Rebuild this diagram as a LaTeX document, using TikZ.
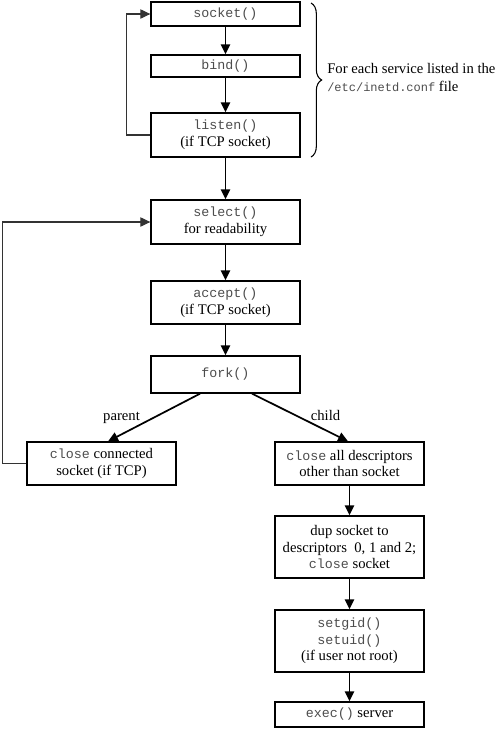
\documentclass[tikz,border=0pt]{standalone}
\usepackage{fontspec}
\setmainfont{Liberation Serif}
\setmonofont{Liberation Mono}
\usetikzlibrary{arrows.meta,decorations.pathreplacing}
\definecolor{codegray}{gray}{0.3}
\newcommand{\cd}[1]{{\fontsize{10}{12}\selectfont\ttfamily\color{codegray}#1}}
\begin{document}
\begin{tikzpicture}[x=0.75pt,y=-0.75pt,
 box/.style={draw, line width=1pt, minimum width=111.75pt, inner sep=0pt, align=center, font=\fontsize{11}{12.5}\selectfont},
 flow/.style={line width=1.3pt, -{Triangle[length=7.5pt,width=7pt]}},
 back/.style={line width=0.8pt, draw=black!80, -{Triangle[length=7.5pt,width=7pt]}},
 lab/.style={font=\fontsize{11}{13}\selectfont, inner sep=0pt}]
\useasboundingbox (0,0) rectangle (500,729);
\node[box, minimum height=18pt] (socket) at (225.5,14) {\cd{socket()}};
\node[box, minimum height=16.5pt] (bind) at (225.5,66) {\cd{bind()}};
\node[box, minimum height=33pt] (listen) at (225.5,135) {\cd{listen()}\\(if TCP socket)};
\node[box, minimum height=33pt] (select) at (225.5,222) {\cd{select()}\\for readability};
\node[box, minimum height=32.25pt] (accept) at (225.5,302.5) {\cd{accept()}\\(if TCP socket)};
\node[box, minimum height=27.75pt] (fork) at (225.5,374.5) {\cd{fork()}};
\node[box, minimum height=32.25pt] (close1) at (101.5,463.5) {\cd{close} connected\\socket (if TCP)};
\node[box, minimum height=32.25pt] (close2) at (349.5,463.5) {\cd{close} all descriptors\\other than socket};
\node[box, minimum height=46.5pt] (dup) at (349.5,547) {dup socket to\\descriptors\ \ 0, 1 and 2;\\\cd{close} socket};
\node[box, minimum height=46.5pt] (setid) at (349.5,641) {\cd{setgid()}\\\cd{setuid()}\\(if user not root)};
\node[box, minimum height=18.75pt] (exec) at (349.5,714.5) {\cd{exec()} server};
% brace and label
\draw[line width=0.8pt, decorate, decoration={brace, amplitude=8pt}] (311,3) -- (311,157);
\node[lab, anchor=west, align=left, font=\fontsize{11}{13.5}\selectfont] (note) at (327,77.5)
  {For each service listed in the\\{\fontsize{9}{10}\selectfont\ttfamily\color{codegray}/etc/inetd.conf} file};
% main flow
\draw[flow] (socket) -- (bind);
\draw[flow] (bind) -- (listen);
\draw[flow] (listen) -- (select);
\draw[flow] (select) -- (accept);
\draw[flow] (accept) -- (fork);
\draw[flow] ([xshift=-19.1pt]fork.south) -- ([xshift=4.9pt]close1.north);
\draw[flow] ([xshift=19.9pt]fork.south) -- ([xshift=-1.1pt]close2.north);
\node[lab, anchor=base] (parent) at (121.5,420) {parent};
\node[lab, anchor=base] (child) at (325.5,420.5) {child};
\draw[flow] (close2) -- (dup);
\draw[flow] (dup) -- (setid);
\draw[flow] (setid) -- (exec);
% loops
\draw[back] (listen.west) -- ++(-24,0) |- (socket.west);
\draw[back] (close1.west) -- ++(-24,0) |- (select.west);
\end{tikzpicture}
\end{document}
